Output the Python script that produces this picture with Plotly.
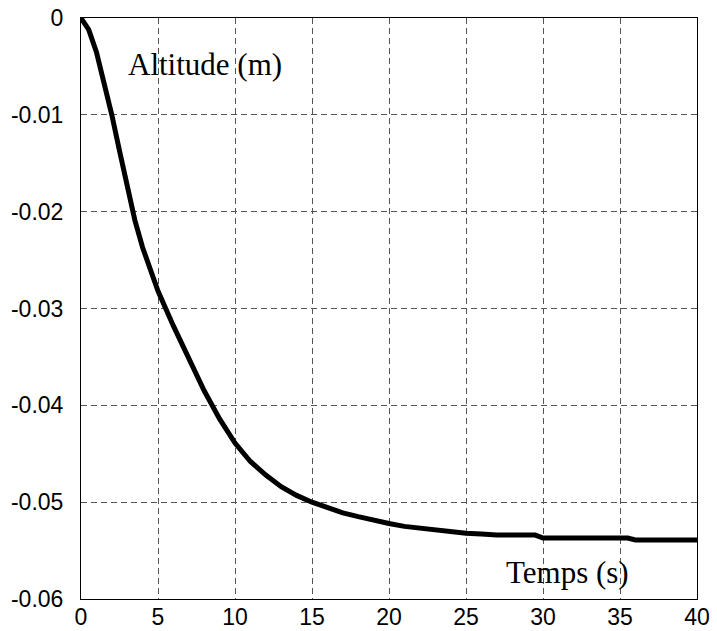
import plotly.graph_objects as go

t = [0, 0.5, 1, 1.5, 2, 2.5, 3, 3.5, 4, 5, 6, 7, 8, 9, 10, 11, 12, 13, 14, 15, 16,
     17, 18, 19, 20, 21, 22, 23, 24, 25, 26, 27, 29.5, 30, 35.5, 36, 40]
altitude = [0, -0.0012, -0.0035, -0.0067, -0.0100, -0.0137, -0.0174, -0.0209, -0.0237,
            -0.0282, -0.0318, -0.0352, -0.0385, -0.0414, -0.0439, -0.0458, -0.0472,
            -0.0484, -0.0493, -0.0500, -0.0506, -0.0511, -0.0515, -0.0519, -0.0522,
            -0.0525, -0.0527, -0.0529, -0.0531, -0.0532, -0.0533, -0.0534, -0.0534,
            -0.0537, -0.0537, -0.0539, -0.0539]

x_ticks = [0, 5, 10, 15, 20, 25, 30, 35, 40]
y_ticks = [0, -0.01, -0.02, -0.03, -0.04, -0.05, -0.06]
y_labels = ["0", "-0.01", "-0.02", "-0.03", "-0.04", "-0.05", "-0.06"]

fig = go.Figure()
fig.add_trace(go.Scatter(x=t, y=altitude, mode="lines",
                         line=dict(color="black", width=5), showlegend=False))

axis_common = dict(showline=True, mirror=True, linecolor="black", linewidth=1,
                   showgrid=True, gridcolor="#555555", gridwidth=1,
                   griddash="6px,4px", zeroline=False, ticks="", automargin=False,
                   tickfont=dict(family="Liberation Sans, Arial", size=23, color="black"))

fig.update_xaxes(range=[0, 40], tickvals=x_ticks, ticklabelstandoff=-3, **axis_common)
fig.update_yaxes(range=[-0.06, 0], tickvals=y_ticks, ticktext=y_labels,
                 ticklabelstandoff=12, **axis_common)

fig.add_annotation(x=0.202, y=0.92, xref="paper", yref="paper", text="Altitude (m)",
                   showarrow=False, xanchor="center", yanchor="middle",
                   font=dict(family="Liberation Serif, Times New Roman", size=31, color="black"))
fig.add_annotation(x=0.789, y=0.045, xref="paper", yref="paper", text="Temps (s)",
                   showarrow=False, xanchor="center", yanchor="middle",
                   font=dict(family="Liberation Serif, Times New Roman", size=31, color="black"))

fig.update_layout(width=717, height=631, paper_bgcolor="white", plot_bgcolor="white",
                  margin=dict(l=81, r=20, t=18, b=32))

fig.write_html("out.html", config={"displayModeBar": False},
               post_script="document.body.style.margin='0';document.body.style.overflow='hidden';")
